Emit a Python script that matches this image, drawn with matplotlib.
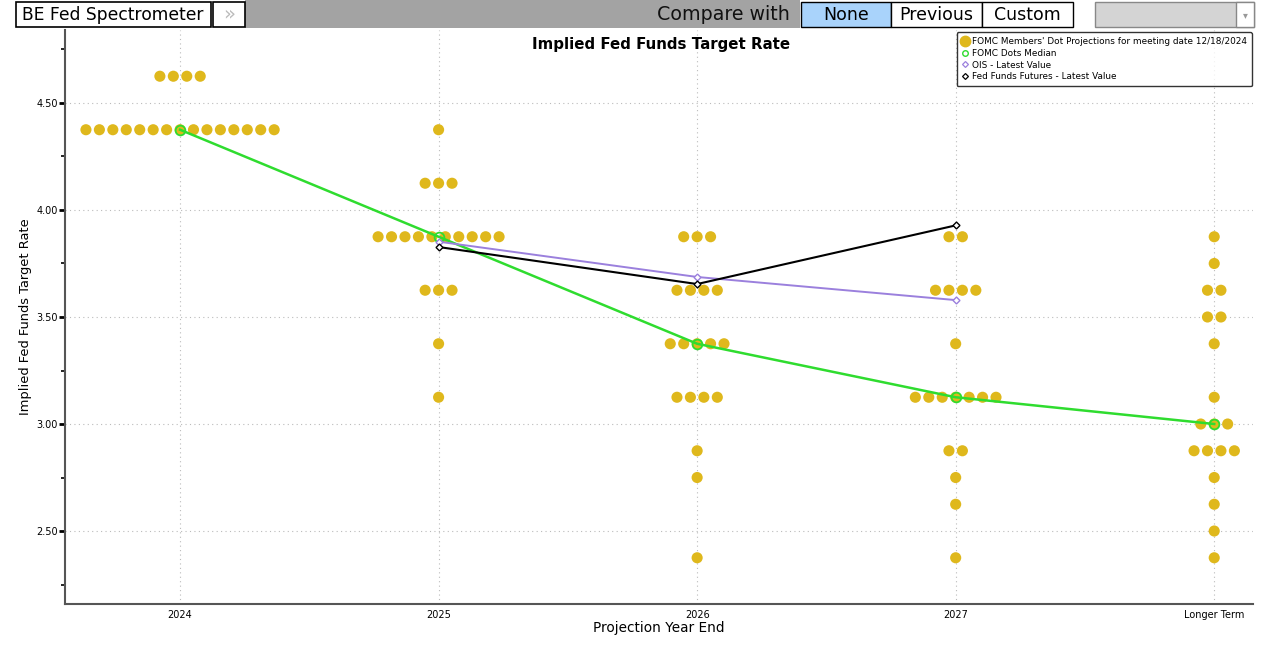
import matplotlib
matplotlib.use("Agg")
import matplotlib.pyplot as plt
from matplotlib.lines import Line2D
from matplotlib.patches import Rectangle
import numpy as np

# ---------------- data ----------------
categories = ["2024", "2025", "2026", "2027", "Longer Term"]

rates_2024 = [4.625, 4.375]
counts_2024 = [4, 15]
rates_2025 = [4.375, 4.125, 3.875, 3.625, 3.375, 3.125]
counts_2025 = [1, 3, 10, 3, 1, 1]
rates_2026 = [3.875, 3.625, 3.375, 3.125, 2.875, 2.75, 2.375]
counts_2026 = [3, 4, 5, 4, 1, 1, 1]
rates_2027 = [3.875, 3.625, 3.375, 3.125, 2.875, 2.75, 2.625, 2.375]
counts_2027 = [2, 4, 1, 7, 2, 1, 1, 1]
rates_lt = [3.875, 3.75, 3.625, 3.5, 3.375, 3.125, 3.0, 2.875, 2.75, 2.625, 2.5, 2.375]
counts_lt = [1, 1, 2, 2, 1, 1, 3, 4, 1, 1, 1, 1]

median_values = [4.375, 3.875, 3.375, 3.125, 3.0]
ois_values = [3.852, 3.687, 3.579]          # 2025..2027
futures_values = [3.827, 3.654, 3.928]      # 2025..2027

yticks = [2.50, 3.00, 3.50, 4.00, 4.50]
yminor = [2.25, 2.75, 3.25, 3.75, 4.25, 4.75]

legend_labels = ["FOMC Members' Dot Projections for meeting date 12/18/2024",
                 "FOMC Dots Median", "OIS - Latest Value",
                 "Fed Funds Futures - Latest Value"]

# ---------------- style ----------------
DOT = "#DFB81C"
GREEN = "#2FDC2F"
PURPLE = "#9B80DD"
SPACING = 0.052

fig = plt.figure(figsize=(12.8, 6.46), dpi=100)
ax = fig.add_axes([65/1280, 1-604/646, (1253-65)/1280, (604-30)/646])

x_idx = np.arange(len(categories))
all_rates = [rates_2024, rates_2025, rates_2026, rates_2027, rates_lt]
all_counts = [counts_2024, counts_2025, counts_2026, counts_2027, counts_lt]

xs, ys = [], []
for xi, rr, cc in zip(x_idx, all_rates, all_counts):
    for r, c in zip(rr, cc):
        offs = (np.arange(c) - (c - 1) / 2) * SPACING
        xs.extend(xi + offs)
        ys.extend([r] * c)
ax.scatter(xs, ys, s=64, color=DOT, edgecolors="none", zorder=3)

ax.plot(x_idx, median_values, color=GREEN, lw=1.8, zorder=4)
ax.plot(x_idx, median_values, ls="none", marker="o", ms=7, mfc="none",
        mec=GREEN, mew=1.3, zorder=5)
ax.plot(x_idx[1:4], ois_values, color=PURPLE, lw=1.4, marker="D", ms=3.5,
        mfc="white", mec=PURPLE, mew=1, zorder=5)
ax.plot(x_idx[1:4], futures_values, color="black", lw=1.5, marker="D", ms=3.5,
        mfc="white", mec="black", mew=1, zorder=6)

ax.set_xlim(-0.445, 4.15)
ax.set_ylim(2.159, 4.841)
ax.set_xticks(x_idx)
ax.set_xticklabels(categories, fontsize=7)
ax.set_yticks(yticks)
ax.set_yticklabels([f"{v:.2f}" for v in yticks], fontsize=7)
ax.set_yticks(yminor, minor=True)
ax.tick_params(axis="x", length=0, pad=4)
ax.tick_params(axis="y", which="major", length=4, width=2, color="black", pad=1)
ax.tick_params(axis="y", which="minor", length=3, width=1.2, color="black")
ax.grid(True, which="major", color="#BBBBBB", ls=(0, (1, 3)), lw=0.8)
ax.set_axisbelow(True)
for s in ["top", "right"]:
    ax.spines[s].set_visible(False)
for s in ["left", "bottom"]:
    ax.spines[s].set_color("#555555")
    ax.spines[s].set_linewidth(1.5)

ax.set_xlabel("Projection Year End", fontsize=9.8, labelpad=1)
ax.set_ylabel("Implied Fed Funds Target Rate", fontsize=9.4, labelpad=3)
fig.text(661/1280, 1-44/646, "Implied Fed Funds Target Rate", ha="center",
         va="center", fontsize=10.8, fontweight="bold")

handles = [
    Line2D([], [], ls="none", marker="o", ms=7.5, color=DOT),
    Line2D([], [], ls="none", marker="o", ms=4, mfc="none", mec=GREEN, mew=1),
    Line2D([], [], ls="none", marker="D", ms=3, mfc="white", mec=PURPLE, mew=0.9),
    Line2D([], [], ls="none", marker="D", ms=3, mfc="white", mec="black", mew=0.9),
]
leg = fig.legend(handles, legend_labels, loc="upper right",
                 bbox_to_anchor=(1252/1280, 1-32/646), fontsize=6.4,
                 frameon=True, fancybox=True, edgecolor="black",
                 handlelength=0.8, handletextpad=0.4, labelspacing=0.32,
                 borderpad=0.55, borderaxespad=0)
leg.get_frame().set_linewidth(1.0)

# ---------------- top toolbar ----------------
def fig_rect(x0, y0, x1, y1, fc, ec=None, lw=1.0):
    fig.patches.append(Rectangle((x0/1280, 1-y1/646), (x1-x0)/1280, (y1-y0)/646,
                                 transform=fig.transFigure, fc=fc,
                                 ec=ec if ec else "none", lw=lw, zorder=10))

fig_rect(245, 0, 800, 28, "#A3A3A3")
fig_rect(16, 2, 211, 27, "white", "black", 1.2)
fig_rect(213, 2, 245, 27, "white", "black", 1.2)
fig_rect(801, 2, 891, 27, "#A9D3FB", "black", 1.0)
fig_rect(891, 2, 982, 27, "white", "black", 1.0)
fig_rect(982, 2, 1073, 27, "white", "black", 1.0)
fig_rect(1095, 2, 1254, 27, "#D4D4D4", "#888888", 1.0)
fig_rect(1236, 2, 1254, 27, "white", "#888888", 1.0)

def ftxt(x, y, s, **kw):
    t = fig.text(x/1280, 1-y/646, s, va="center", **kw)
    t.set_zorder(11)
    return t

ftxt(113, 15, "BE Fed Spectrometer", ha="center", fontsize=12.3)
ftxt(229, 14, "\u00bb", ha="center", fontsize=14, color="#BBBBBB")
ftxt(790, 15, "Compare with", ha="right", fontsize=13.7, color="#111111")
ftxt(846, 15, "None", ha="center", fontsize=12.5)
ftxt(936, 15, "Previous", ha="center", fontsize=12.5)
ftxt(1027, 15, "Custom", ha="center", fontsize=12.5)
ftxt(1245, 15, "\u25be", ha="center", fontsize=7, color="#999999")

fig.savefig("out.png", dpi=100, facecolor="white")
